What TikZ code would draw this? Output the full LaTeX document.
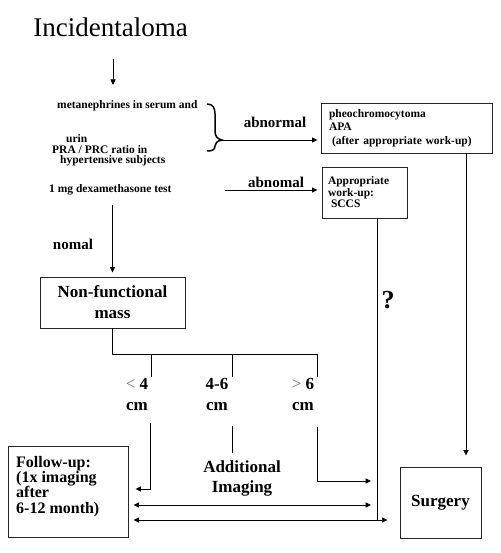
\documentclass[tikz,border=0pt]{standalone}
\usepackage{fontspec}
\setmainfont{Liberation Serif}
\usepackage{tikz}
\usetikzlibrary{arrows.meta, positioning, calc}
\newcommand{\fsz}[2]{\fontsize{#1}{#2}\selectfont}
\tikzset{
  smalltxt/.style={font=\fsz{11.5}{11.5}\bfseries, inner sep=0pt},
  armlabel/.style={font=\fsz{15}{16}\bfseries, inner sep=0pt},
  bigtxt/.style={font=\fsz{17}{21}\bfseries, inner sep=0pt, align=center},
  framebox/.style={rectangle, draw=black!85, line width=0.9pt},
  arrow/.style={-{Triangle[length=5.5pt,width=5pt]}, line width=0.9pt},
  darrow/.style={{Triangle[length=5.5pt,width=5pt]}-{Triangle[length=5.5pt,width=5pt]}, line width=0.9pt},
  plain/.style={line width=0.9pt},
}

\begin{document}
\begin{tikzpicture}[x=1pt, y=-1pt]
  \useasboundingbox (0,0) rectangle (500,553);

  % Title
  \node[font=\fsz{27}{30}, inner sep=0pt] (title) at (110.5,27) {Incidentaloma};
  \coordinate (tarr) at (113,85);
  \draw[arrow, shorten <=22pt] (title.south -| tarr) -- (tarr);

  % Screening tests (left)
  \node[smalltxt, anchor=west] (meta) at (57,106) {metanephrines in serum and};
  \node[smalltxt, font=\fsz{11.5}{10.5}\bfseries, anchor=west, align=left] (pra) at (52,150.5)
        {\hspace*{14pt}urin\\PRA / PRC ratio in\\\hspace*{8pt}hypertensive subjects};
  \node[smalltxt, anchor=west] (dex) at (49,190) {1 mg dexamethasone test};

  % Brace
  \draw[line width=1.5pt] (207,104) .. controls (213,104) and (215,108) .. (215,114) -- (215,131)
    .. controls (215,136) and (217,139) .. (222,140)
    .. controls (217,141) and (215,143) .. (215,146)
    .. controls (215,150) and (212,151) .. (207,151);
  \coordinate (tip) at (222,140);

  % Abnormal results (right)
  \node[framebox, smalltxt, font=\fsz{11.5}{13.5}\bfseries, minimum width=171pt, minimum height=50pt,
        text width=155pt, inner xsep=8pt, align=left] (pheo) at (406.5,128)
        {pheochromocytoma\\APA\\\hspace*{3pt}(after appropriate work-up)};
  \node[framebox, smalltxt, minimum width=85pt, minimum height=51pt,
        text width=73pt, inner xsep=6pt, align=left] (work) at (364.5,192.5)
        {Appropriate\\work-up:\\\hspace*{3pt}SCCS};

  \draw[arrow, shorten >=3pt] (tip) -- (tip -| pheo.west);
  \node[armlabel] (abn1) at (275,122) {abnormal};
  \coordinate (dexend) at (225,190);
  \draw[arrow, shorten >=4pt] (dexend) -- (dexend -| work.west);
  \node[armlabel] (abn2) at (276,182) {abnomal};

  % Normal result
  \node[framebox, bigtxt, minimum width=145pt, minimum height=51pt] (nfm) at (112.5,302.5) {Non-functional\\mass};
  \draw[arrow, shorten <=10pt, shorten >=4pt] (dex.south -| nfm.north) -- (nfm.north);
  \node[armlabel] (nomal) at (73,244) {nomal};

  % Size branches
  \foreach \n/\x in {lo/151, md/232, hi/317} {
    \coordinate (k\n) at (\x,354);
    \draw[plain] (k\n) -- ++(0,23);
  }
  \draw[plain] (nfm.south) |- (khi);

  \node[bigtxt] (szlo) at (137,394) {{\mdseries\color{black!55}<} 4\\cm};
  \node[bigtxt] (szmd) at (217,394) {4-6\\cm};
  \node[bigtxt] (szhi) at (303,394) {{\mdseries\color{black!55}>} 6\\cm};

  % Outcomes
  \node[framebox, minimum width=120pt, minimum height=91pt, inner sep=0pt] (fu) at (68,491.5) {};
  \node[anchor=north west, align=left, inner sep=0pt, font=\fsz{16}{15.3}\bfseries] (futxt) at (16,456)
        {Follow-up:\\(1x imaging\\after\\6-12 month)};
  \node[framebox, bigtxt, minimum width=81pt, minimum height=71pt] (sg) at (440.5,502.5) {Surgery};
  \node[bigtxt, font=\fsz{17}{20}\bfseries] (addimg) at (242,478) {Additional\\Imaging};
  \node[font=\fsz{26}{28}\bfseries, inner sep=0pt] (qm) at (388,300) {?};

  \coordinate (rowD) at (0,481);
  \coordinate (rowA) at (0,489);
  \coordinate (rowB) at (0,505);
  \coordinate (rowC) at (0,520);
  \coordinate (dlo) at (150,423);
  \coordinate (dmd) at (232,426);
  \coordinate (dhi) at (317,427);
  \coordinate (wk) at ([xshift=12.5pt]work.south);
  \coordinate (wkl) at ([xshift=-6pt]wk);
  \coordinate (pd) at ([xshift=59.5pt]pheo.south);

  \draw[arrow, shorten >=7pt] (dlo) |- (fu.east |- rowA);
  \draw[plain] (dmd) -- ++(0,27);
  \draw[arrow] (dhi) |- (wkl |- rowD);
  \draw[darrow, shorten <=5pt] (fu.east |- rowB) -- (wkl |- rowB);
  \draw[darrow, shorten <=5pt, shorten >=12pt] (fu.east |- rowC) -- (sg.west |- rowC);
  \draw[plain] (wk) -- (wk |- rowC);
  \draw[arrow, shorten >=11pt] (pd) -- (pd |- sg.north);
\end{tikzpicture}
\end{document}
